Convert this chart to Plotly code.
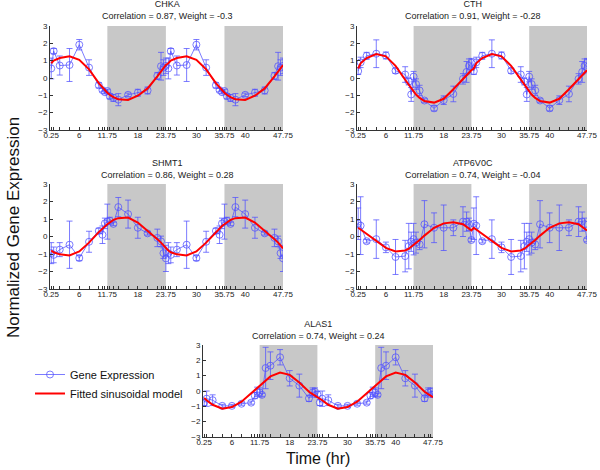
import plotly.graph_objects as go

# sampling times over one 24 h cycle; the plots repeat the cycle twice
times = [0.25, 0.75, 2, 4, 6, 8, 10, 10.75, 11.25, 11.75, 12.25, 13, 14, 16, 18, 20, 22, 22.75, 23.25, 23.75]
dark_periods = [(11.75, 23.75), (35.75, 47.75)]
x_labels = [0.25, 6, 11.75, 18, 23.75, 30, 35.75, 40, 47.75]

genes = ["CHKA", "CTH", "SHMT1", "ATP6V0C", "ALAS1"]
correlation = [0.87, 0.91, 0.86, 0.74, 0.74]
weight = [-0.3, -0.28, 0.28, -0.04, 0.24]

chka_mean = [0.55, 1.55, 0.72, 0.75, 1.92, 0.6, -0.42, -0.7, -0.82, -0.75, -1.05, -1.15, -1.25, -0.97, -0.85, -0.72, 0.12, 0.68, 0.6, 0.7]
chka_err = [0.6, 0.15, 0.55, 0.95, 0.3, 0.45, 0.15, 0.1, 0.1, 0.1, 0.15, 0.2, 0.35, 0.1, 0.2, 0.2, 0.2, 0.8, 0.45, 0.45]
chka_fit = [0.85, 1.0, 1.15, 1.25, 1.05, 0.5, -0.3, -0.55, -0.72, -0.85, -0.97, -1.1, -1.22, -1.27, -1.02, -0.6, 0.1, 0.4, 0.58, 0.75]

cth_mean = [0.4, 0.9, 1.28, 1.4, 1.3, 0.42, 0.2, -0.2, -0.95, 0.08, -0.35, -0.72, -1.3, -1.75, -1.28, -0.92, -0.05, 0.35, 0.7, 0.88]
cth_err = [0.2, 0.3, 0.2, 0.8, 0.2, 0.15, 0.45, 0.2, 0.4, 0.3, 0.3, 0.3, 0.1, 0.15, 0.25, 0.45, 0.3, 0.6, 0.4, 0.25]
cth_fit = [0.55, 0.85, 1.15, 1.38, 1.25, 0.7, -0.1, -0.4, -0.6, -0.78, -0.95, -1.15, -1.33, -1.42, -1.2, -0.65, -0.1, 0.15, 0.3, 0.45]

shmt1_mean = [-0.95, -1.05, -0.75, -0.47, -1.23, -0.3, 0.32, 0.1, 0.75, 0.85, 0.9, 0.72, 1.68, 1.28, 0.5, 0.18, -0.08, -0.28, -0.95, -1.25]
shmt1_err = [0.6, 0.45, 0.4, 1.35, 0.15, 0.6, 0.15, 0.5, 0.3, 1.0, 0.2, 0.1, 0.55, 0.8, 0.6, 0.1, 0.5, 0.3, 0.3, 0.75]
shmt1_fit = [-0.8, -0.9, -1.02, -1.08, -0.85, -0.35, 0.25, 0.45, 0.6, 0.7, 0.8, 0.95, 1.05, 1.08, 0.8, 0.35, -0.15, -0.35, -0.5, -0.68]

atp6v0c_mean = [0.73, 0.62, -0.27, -0.15, -0.62, -1.17, -1.12, -0.55, -0.3, -0.15, -0.35, -0.45, 0.7, 0.5, 0.5, 0.5, 0.85, 0.85, 0.7, -0.2]
atp6v0c_err = [0.9, 1.65, 0.1, 1.1, 0.3, 1.0, 0.9, 1.3, 0.55, 0.9, 0.6, 0.3, 1.35, 0.85, 1.3, 0.45, 0.85, 0.55, 0.35, 0.1]
atp6v0c_fit = [0.5, 0.4, 0.15, -0.3, -0.65, -0.85, -0.8, -0.7, -0.6, -0.5, -0.4, -0.2, 0.05, 0.5, 0.75, 0.82, 0.7, 0.55, 0.45, 0.35]

alas1_mean = [-0.75, -0.5, -0.6, -0.97, -0.97, -0.83, -0.76, -0.3, -0.05, -0.1, -0.25, 1.5, 1.65, 2.2, 0.83, 0.35, -0.48, -0.1, -0.05, -0.22]
alas1_err = [0.2, 0.5, 0.35, 0.1, 0.1, 0.1, 0.1, 0.2, 0.3, 0.3, 0.1, 1.35, 0.9, 0.5, 0.5, 0.75, 0.2, 0.3, 0.25, 0.2]
alas1_fit = [-0.45, -0.6, -0.9, -1.15, -1.05, -0.7, -0.15, 0.05, 0.2, 0.35, 0.5, 0.7, 0.95, 1.2, 1.05, 0.55, -0.05, -0.2, -0.3, -0.4]

means = [chka_mean, cth_mean, shmt1_mean, atp6v0c_mean, alas1_mean]
errs = [chka_err, cth_err, shmt1_err, atp6v0c_err, alas1_err]
fits = [chka_fit, cth_fit, shmt1_fit, atp6v0c_fit, alas1_fit]

W, H = 600, 470
# plot boxes in pixels: (left, right, top, bottom)
boxes = [
    (50, 283, 26, 130),
    (357, 587, 26, 130),
    (50, 283, 184, 289),
    (357, 587, 184, 289),
    (203, 433, 345, 437),
]

FONT = "Liberation Sans, Arial, sans-serif"
BLUE = "rgba(80,80,255,0.75)"

# two cycles, same values
x_all = times + [t + 24 for t in times]
tickvals = sorted(set(x_all) | set(x_labels))
ticktext = [str(t) if t in x_labels else "" for t in tickvals]

fig = go.Figure()
layout = {}
for i, gene in enumerate(genes):
    n = "" if i == 0 else str(i + 1)
    xa, ya = "x" + n, "y" + n
    fig.add_trace(go.Scatter(
        x=x_all, y=means[i] * 2, xaxis=xa, yaxis=ya,
        mode="lines+markers", name="Gene Expression", showlegend=(i == 0),
        line=dict(color=BLUE, width=1),
        marker=dict(symbol="circle-open", size=7, color=BLUE, line=dict(width=1)),
        error_y=dict(type="data", array=errs[i] * 2, color=BLUE, thickness=1, width=3),
    ))
    fig.add_trace(go.Scatter(
        x=x_all, y=fits[i] * 2, xaxis=xa, yaxis=ya,
        mode="lines", name="Fitted sinusoidal model", showlegend=(i == 0),
        line=dict(color="red", width=2),
    ))

    l, r, t, b = boxes[i]
    layout["xaxis" + n] = dict(
        domain=[l / W, r / W], anchor=ya, range=[0, 47.75],
        tickvals=tickvals, ticktext=ticktext, ticks="inside", ticklen=3,
        showline=True, linecolor="#333", linewidth=1, tickcolor="#333",
        showgrid=False, zeroline=False, automargin=False, ticklabelstandoff=-3,
        tickfont=dict(size=8, color="#222"),
    )
    layout["yaxis" + n] = dict(
        domain=[1 - b / H, 1 - t / H], anchor=xa, range=[-3, 3],
        tickvals=[-3, -2, -1, 0, 1, 2, 3], ticks="inside", ticklen=3,
        showline=True, linecolor="#333", linewidth=1, tickcolor="#333",
        showgrid=False, zeroline=False, automargin=False,
        tickfont=dict(size=8, color="#222"),
    )
    for x0, x1 in dark_periods:
        fig.add_shape(type="rect", xref=xa, yref=ya, x0=x0, x1=x1, y0=-3, y1=3,
                      fillcolor="rgb(200,200,200)", line_width=0, layer="below")
    # two-line title, centred ~15 px above the plot box
    fig.add_annotation(
        x=(l + r) / 2 / W, y=1 - (t - 15.5) / H, xref="paper", yref="paper",
        xanchor="center", yanchor="middle", showarrow=False, borderpad=0,
        text=f"{gene}<br>Correlation = {correlation[i]}, Weight = {weight[i]}",
        font=dict(size=9, color="#222"),
    )

fig.add_annotation(x=13 / W, y=1 - 228 / H, xref="paper", yref="paper", showarrow=False,
                   xanchor="center", yanchor="middle",
                   text="Normalized Gene Expression", textangle=-90,
                   font=dict(size=17, color="#111"))
fig.add_annotation(x=318 / W, y=1 - 458 / H, xref="paper", yref="paper", showarrow=False,
                   xanchor="center", yanchor="middle", borderpad=0,
                   text="Time (hr)", font=dict(size=16, color="#111"))

fig.update_layout(
    **layout,
    width=W, height=H, margin=dict(l=0, r=0, t=0, b=0),
    plot_bgcolor="white", paper_bgcolor="white",
    font=dict(family=FONT),
    legend=dict(x=30 / W, y=1 - 360 / H, xanchor="left", yanchor="top",
                font=dict(size=11, color="#111"), bgcolor="rgba(0,0,0,0)",
                tracegroupgap=0, itemwidth=30),
)

fig.write_html("out.html", config={"displayModeBar": False},
               post_script="document.body.style.margin = '0';")
